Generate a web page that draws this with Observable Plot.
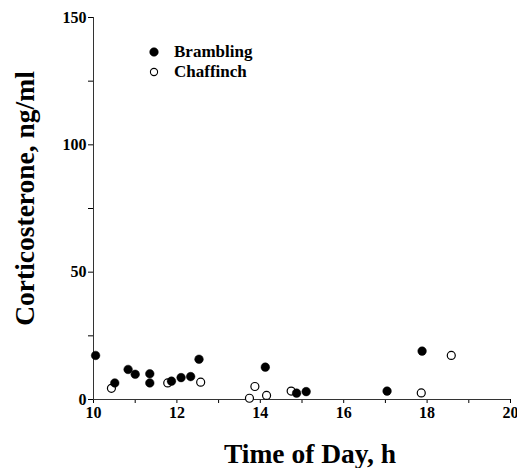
<!DOCTYPE html>
<html>
<head>
<meta charset="utf-8">
<script src="https://cdn.jsdelivr.net/npm/d3@7"></script>
<script src="https://cdn.jsdelivr.net/npm/@observablehq/plot@0.6"></script>
<style>
  html, body { margin: 0; padding: 0; background: #fff; }
  #wrap { position: relative; width: 517px; height: 468px; }
  #wrap svg text { font-family: "Liberation Serif", "Times New Roman", serif !important; }
  #legend { position: absolute; left: 148px; top: 42px; font-family: "Liberation Serif", serif; font-weight: bold; font-size: 17px; line-height: 20px; }
  #legend div { display: flex; align-items: center; }
  #legend svg { margin-right: 14px; }
</style>
</head>
<body>
<div id="wrap"><div id="legend"></div></div>
<script>
const bramblingTime = [10.05, 10.51, 10.83, 11.0, 11.35, 11.35, 11.87, 12.1, 12.33, 12.53, 14.12, 14.87, 15.1, 17.04, 17.88];
const bramblingCort = [17.3, 6.5, 11.8, 9.9, 10.1, 6.5, 7.2, 8.6, 9.0, 15.8, 12.7, 2.5, 3.1, 3.3, 19.0];
const chaffinchTime = [10.43, 11.78, 12.57, 13.74, 13.87, 14.15, 14.74, 17.86, 18.58];
const chaffinchCort = [4.4, 6.5, 6.8, 0.5, 5.1, 1.6, 3.3, 2.6, 17.3];
const seriesNames = ["Brambling", "Chaffinch"];
const xTicks = d3.range(10, 21, 1);
const yTicks = d3.range(0, 151, 25);

const brambling = bramblingTime.map((t, i) => ({time: t, cort: bramblingCort[i]}));
const chaffinch = chaffinchTime.map((t, i) => ({time: t, cort: chaffinchCort[i]}));

const font = "'Liberation Serif', 'Times New Roman', serif";

const chart = Plot.plot({
  width: 517,
  height: 468,
  marginLeft: 93,
  marginRight: 7,
  marginTop: 17,
  marginBottom: 69,
  style: {fontFamily: font, fontWeight: "bold", fontSize: "16px", color: "#000", background: "#fff", overflow: "visible"},
  x: {domain: [10, 20]},
  y: {domain: [0, 150]},
  marks: [
    Plot.axisX({ticks: xTicks, tickSize: 4, tickPadding: 3, tickFormat: d => d % 2 === 0 ? d : "", label: null, fontSize: 16, fontFamily: font, fontWeight: "bold"}),
    Plot.axisY({ticks: yTicks, tickSize: 5, tickPadding: 2, tickFormat: d => d % 50 === 0 ? d : "", label: null, fontSize: 16, fontFamily: font, fontWeight: "bold"}),
    Plot.ruleX([10], {stroke: "#333", strokeWidth: 1}),
    Plot.ruleY([0], {stroke: "#333", strokeWidth: 1}),
    Plot.dot(chaffinch, {x: "time", y: "cort", r: 4, fill: "white", stroke: "black", strokeWidth: 1.2}),
    Plot.dot(brambling, {x: "time", y: "cort", r: 4.3, fill: "black", stroke: "black", strokeWidth: 0.5}),
    Plot.text(["Time of Day, h"], {frameAnchor: "bottom", dy: 63, dx: 8, fontSize: 27.5, fontWeight: "bold", fontFamily: font}),
    Plot.text(["Corticosterone, ng/ml"], {frameAnchor: "left", textAnchor: "middle", dx: -68, dy: -10, rotate: -90, fontSize: 27.5, fontWeight: "bold", fontFamily: font})
  ]
});
document.getElementById("wrap").prepend(chart);

const legend = document.getElementById("legend");
seriesNames.forEach((name, i) => {
  const row = document.createElement("div");
  row.innerHTML = `<svg width="12" height="12"><circle cx="6" cy="6" r="${i === 0 ? 4.3 : 3.6}" fill="${i === 0 ? "black" : "white"}" stroke="black" stroke-width="${i === 0 ? 0.5 : 1.1}"/></svg><span>${name}</span>`;
  legend.appendChild(row);
});
</script>
</body>
</html>
